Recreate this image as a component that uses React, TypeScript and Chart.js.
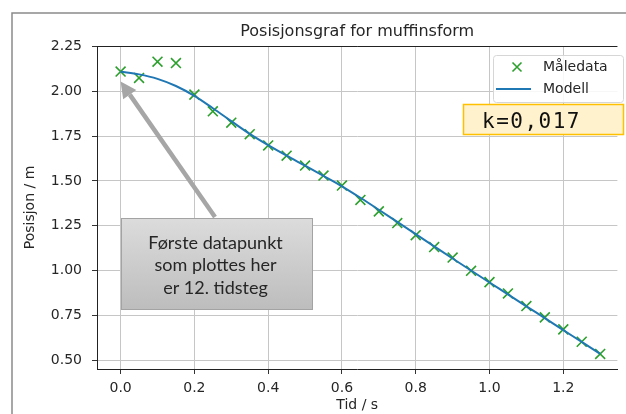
import React, { useEffect, useRef } from "react";
import { Chart, registerables } from "chart.js";

Chart.register(...registerables);

const TITLE = "Posisjonsgraf for muffinsform";
const X_LABEL = "Tid / s";
const Y_LABEL = "Posisjon / m";
const LEGEND_DATA = "Måledata";
const LEGEND_MODEL = "Modell";
const K_TEXT = "k=0,017";
const NOTE_LINES = ["Første datapunkt", "som plottes her", "er 12. tidsteg"];

const times = [
  0, 0.05, 0.1, 0.15, 0.2, 0.25, 0.3, 0.35, 0.4, 0.45, 0.5, 0.55, 0.6, 0.65,
  0.7, 0.75, 0.8, 0.85, 0.9, 0.95, 1.0, 1.05, 1.1, 1.15, 1.2, 1.25, 1.3,
];
const measured = [
  2.111, 2.075, 2.166, 2.158, 1.982, 1.889, 1.825, 1.761, 1.698, 1.641, 1.586,
  1.53, 1.474, 1.394, 1.33, 1.265, 1.197, 1.131, 1.072, 0.998, 0.935, 0.872,
  0.801, 0.738, 0.671, 0.602, 0.534,
];
const model = [
  2.11, 2.095, 2.07, 2.03, 1.975, 1.906, 1.834, 1.763, 1.7, 1.641, 1.585,
  1.528, 1.47, 1.406, 1.339, 1.271, 1.203, 1.135, 1.067, 1.0, 0.933, 0.867,
  0.8, 0.734, 0.667, 0.601, 0.534,
];

const X_MIN = -0.064;
const X_MAX = 1.3467;
const Y_MIN = 0.4498;
const Y_MAX = 2.2535;

const GREEN = "#2ca02c";
const BLUE = "#1f77b4";
const TEXT = "#262626";
const GRID = "#c6c6c6";
const FONT = "'DejaVu Sans', sans-serif";

const overlayPlugin = {
  id: "overlay",
  afterDraw(chart: any) {
    const ctx = chart.ctx as CanvasRenderingContext2D;
    const area = chart.chartArea;
    const xs = chart.scales.x;
    const ys = chart.scales.y;
    ctx.save();

    // top spine
    ctx.strokeStyle = "#222";
    ctx.lineWidth = 1;
    ctx.beginPath();
    ctx.moveTo(area.left, Math.round(area.top) + 0.5);
    ctx.lineTo(area.right, Math.round(area.top) + 0.5);
    ctx.stroke();

    // legend
    const lx = 493, ly = 55, lw = 130, lh = 47;
    ctx.beginPath();
    ctx.roundRect(lx + 0.5, ly + 0.5, lw, lh, 3);
    ctx.fillStyle = "rgba(255,255,255,0.85)";
    ctx.fill();
    ctx.strokeStyle = "#d6d6d6";
    ctx.lineWidth = 1;
    ctx.stroke();
    ctx.strokeStyle = GREEN;
    ctx.lineWidth = 1.6;
    const mx = 517, my = 67, r = 4.5;
    ctx.beginPath();
    ctx.moveTo(mx - r, my - r);
    ctx.lineTo(mx + r, my + r);
    ctx.moveTo(mx - r, my + r);
    ctx.lineTo(mx + r, my - r);
    ctx.stroke();
    ctx.strokeStyle = BLUE;
    ctx.lineWidth = 2;
    ctx.beginPath();
    ctx.moveTo(496, 89);
    ctx.lineTo(531, 89);
    ctx.stroke();
    ctx.fillStyle = TEXT;
    ctx.font = `14px ${FONT}`;
    ctx.textBaseline = "middle";
    ctx.textAlign = "left";
    ctx.fillText(LEGEND_DATA, 543, 67);
    ctx.fillText(LEGEND_MODEL, 543, 89);

    // k box
    ctx.fillStyle = "#fff2cc";
    ctx.fillRect(463, 104, 161, 30);
    ctx.strokeStyle = "#ffc000";
    ctx.lineWidth = 1.5;
    ctx.strokeRect(463.5, 104.5, 160, 30);
    ctx.fillStyle = "#111";
    ctx.font = `21px 'DejaVu Sans Mono', monospace`;
    (ctx as any).letterSpacing = "1.5px";
    ctx.textBaseline = "alphabetic";
    ctx.fillText(K_TEXT, 482, 128);
    (ctx as any).letterSpacing = "0px";

    // arrow
    const tipX = xs.getPixelForValue(times[0]);
    const tipY = ys.getPixelForValue(measured[0]) + 10;
    const tailX = 215, tailY = 217;
    const ang = Math.atan2(tipY - tailY, tipX - tailX);
    const headLen = 16, headHalf = 8;
    const bx = tipX - headLen * Math.cos(ang);
    const by = tipY - headLen * Math.sin(ang);
    ctx.strokeStyle = "#a6a6a6";
    ctx.fillStyle = "#a6a6a6";
    ctx.lineWidth = 4.5;
    ctx.beginPath();
    ctx.moveTo(tailX, tailY);
    ctx.lineTo(bx, by);
    ctx.stroke();
    ctx.beginPath();
    ctx.moveTo(tipX, tipY);
    ctx.lineTo(bx + headHalf * Math.sin(ang), by - headHalf * Math.cos(ang));
    ctx.lineTo(bx - headHalf * Math.sin(ang), by + headHalf * Math.cos(ang));
    ctx.closePath();
    ctx.fill();

    // note box
    const nx = 121, ny = 218, nw = 191, nh = 91;
    const grad = ctx.createLinearGradient(0, ny, 0, ny + nh);
    grad.addColorStop(0, "#dcdcdc");
    grad.addColorStop(1, "#bdbdbd");
    ctx.fillStyle = grad;
    ctx.fillRect(nx, ny, nw, nh);
    ctx.strokeStyle = "#a3a3a3";
    ctx.lineWidth = 1;
    ctx.strokeRect(nx + 0.5, ny + 0.5, nw, nh);
    ctx.fillStyle = TEXT;
    ctx.font = `18px Lato, 'Open Sans', sans-serif`;
    ctx.textAlign = "center";
    ctx.textBaseline = "middle";
    NOTE_LINES.forEach((t, i) => ctx.fillText(t, nx + nw / 2 - 1, 243 + i * 22.5));

    // outer frame
    ctx.strokeStyle = "#8a8a8a";
    ctx.lineWidth = 1.5;
    ctx.beginPath();
    ctx.moveTo(12, 414);
    ctx.lineTo(12, 13);
    ctx.lineTo(626, 13);
    ctx.stroke();

    ctx.restore();
  },
};

export default function App() {
  const ref = useRef<HTMLCanvasElement | null>(null);
  useEffect(() => {
    document.body.style.margin = "0";
    const canvas = ref.current!;
    const tickFont = { family: FONT, size: 14 };
    const titleFont = { family: FONT, size: 14, lineHeight: 1.2 };
    const chart = new Chart(canvas, {
      type: "scatter",
      data: {
        datasets: [
          {
            label: LEGEND_MODEL,
            type: "line",
            data: times.map((t, i) => ({ x: t, y: model[i] })),
            borderColor: BLUE,
            borderWidth: 2,
            pointRadius: 0,
            cubicInterpolationMode: "monotone",
            fill: false,
            order: 0,
          } as any,
          {
            label: LEGEND_DATA,
            data: times.map((t, i) => ({ x: t, y: measured[i] })),
            pointStyle: "crossRot",
            pointRadius: 7,
            borderColor: GREEN,
            backgroundColor: GREEN,
            borderWidth: 1.6,
            order: 1,
          },
        ],
      },
      options: {
        animation: false,
        responsive: false,
        devicePixelRatio: 1,
        layout: { padding: 0 },
        plugins: {
          legend: { display: false },
          tooltip: { enabled: false },
          title: {
            display: true,
            text: TITLE,
            fullSize: false,
            color: TEXT,
            font: { family: FONT, size: 16, weight: "normal", lineHeight: 1.2 },
            padding: { top: 22, bottom: 4.8 },
          },
        },
        scales: {
          x: {
            type: "linear",
            min: X_MIN,
            max: X_MAX,
            afterFit: (s: any) => {
              s.height = 45;
            },
            ticks: {
              stepSize: 0.2,
              includeBounds: false,
              autoSkip: false,
              maxRotation: 0,
              color: TEXT,
              font: tickFont,
              padding: 6,
              callback: (v: any) => Number(v).toFixed(1),
            },
            grid: { color: GRID, lineWidth: 1, tickLength: 5, tickColor: "#333", tickWidth: 1 },
            border: { color: "#222", width: 1 },
            title: {
              display: true,
              text: X_LABEL,
              color: TEXT,
              font: titleFont,
              padding: { top: 0, bottom: 0 },
            },
          },
          y: {
            type: "linear",
            min: Y_MIN,
            max: Y_MAX,
            afterFit: (s: any) => {
              s.width = 97;
            },
            ticks: {
              stepSize: 0.25,
              includeBounds: false,
              autoSkip: false,
              color: TEXT,
              font: tickFont,
              padding: 10,
              callback: (v: any) => Number(v).toFixed(2),
            },
            grid: { color: GRID, lineWidth: 1, tickLength: 5, tickColor: "#333", tickWidth: 1 },
            border: { color: "#222", width: 1 },
            title: {
              display: true,
              text: Y_LABEL,
              color: TEXT,
              font: titleFont,
              padding: { top: 21.6, bottom: 0 },
            },
          },
        },
      },
      plugins: [overlayPlugin],
    } as any);
    return () => chart.destroy();
  }, []);
  return <canvas ref={ref} width={626} height={414} style={{ display: "block" }} />;
}
